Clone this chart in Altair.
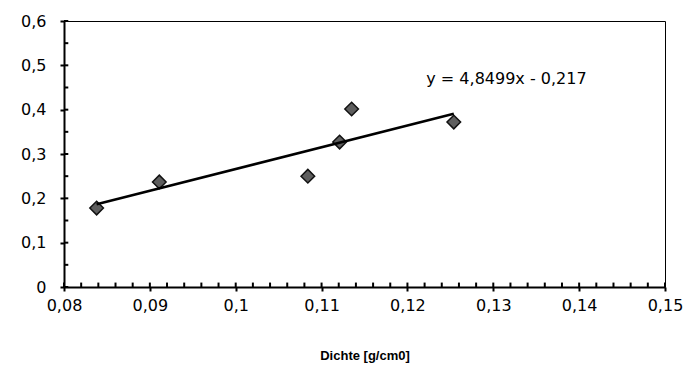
import altair as alt
import pandas as pd

# data
dichte = [0.0838, 0.0911, 0.1084, 0.1121, 0.1135, 0.1254]
wert = [0.178, 0.237, 0.250, 0.327, 0.4015, 0.372]

x_major = [0.08, 0.09, 0.10, 0.11, 0.12, 0.13, 0.14, 0.15]
y_major = [0.0, 0.1, 0.2, 0.3, 0.4, 0.5, 0.6]
x_minor = [round(0.08 + 0.002 * i, 3) for i in range(36)]
y_minor = [round(0.05 * i, 2) for i in range(13)]

eq_text = ["y = 4,8499x - 0,217"]
eq_x = [0.1222]
eq_y = [0.470]

df = pd.DataFrame({"x": dichte, "y": wert})
eq = pd.DataFrame({"x": eq_x, "y": eq_y, "t": eq_text})
xm = pd.DataFrame({"x": x_minor, "y0": [0.0] * len(x_minor), "y1": [0.010] * len(x_minor)})
ym = pd.DataFrame({"y": y_minor, "x0": [0.08] * len(y_minor), "x1": [0.0805] * len(y_minor)})

FONT = "DejaVu Sans"
xs = alt.Scale(domain=[0.08, 0.15], nice=False, zero=False)
ys = alt.Scale(domain=[0, 0.6], nice=False)
lab = "replace(format(datum.value, '~g'), '.', ',')"

points = alt.Chart(df).mark_point(
    shape="diamond", filled=True, size=185, fill="#5e5e5e", stroke="#111111",
    strokeWidth=1.5, opacity=1
).encode(
    x=alt.X("x:Q", scale=xs, axis=alt.Axis(
        values=x_major, labelExpr=lab, grid=False, tickSize=4, tickWidth=2,
        domainWidth=2, domainColor="black", tickColor="black", labelFlush=False,
        labelFontSize=16, labelFont=FONT, labelColor="black", labelPadding=6,
        title="Dichte [g/cm0]", titleFont="Liberation Sans", titleFontSize=13,
        titleFontWeight="bold", titleColor="black", titlePadding=36)),
    y=alt.Y("y:Q", scale=ys, axis=alt.Axis(
        values=y_major, labelExpr=lab, grid=False, tickSize=4, tickWidth=2,
        domainWidth=2, domainColor="black", tickColor="black", labelFlush=False,
        labelFontSize=16, labelFont=FONT, labelColor="black", labelPadding=14,
        title="")),
)

trend = alt.Chart(df).transform_regression("x", "y").mark_line(
    color="black", strokeWidth=2.5
).encode(
    x=alt.X("x:Q", scale=xs),
    y=alt.Y("y:Q", scale=ys),
)

xticks = alt.Chart(xm).mark_rule(color="black", strokeWidth=2).encode(
    x=alt.X("x:Q", scale=xs),
    y=alt.Y("y0:Q", scale=ys),
    y2="y1:Q",
)

yticks = alt.Chart(ym).mark_rule(color="black", strokeWidth=2).encode(
    y=alt.Y("y:Q", scale=ys),
    x=alt.X("x0:Q", scale=xs),
    x2="x1:Q",
)

label = alt.Chart(eq).mark_text(
    align="left", baseline="middle", font=FONT, fontSize=16, color="black"
).encode(
    x=alt.X("x:Q", scale=xs),
    y=alt.Y("y:Q", scale=ys),
    text="t:N",
)

chart = alt.layer(points, trend, xticks, yticks, label).properties(
    width=601, height=266,
    autosize=alt.AutoSizeParams(type="none"),
    padding={"left": 56, "top": 13, "right": 18, "bottom": 82},
    background="white",
).configure_view(stroke="black", strokeWidth=1)

chart.save("out.html", embed_options={"renderer": "svg", "actions": False})
